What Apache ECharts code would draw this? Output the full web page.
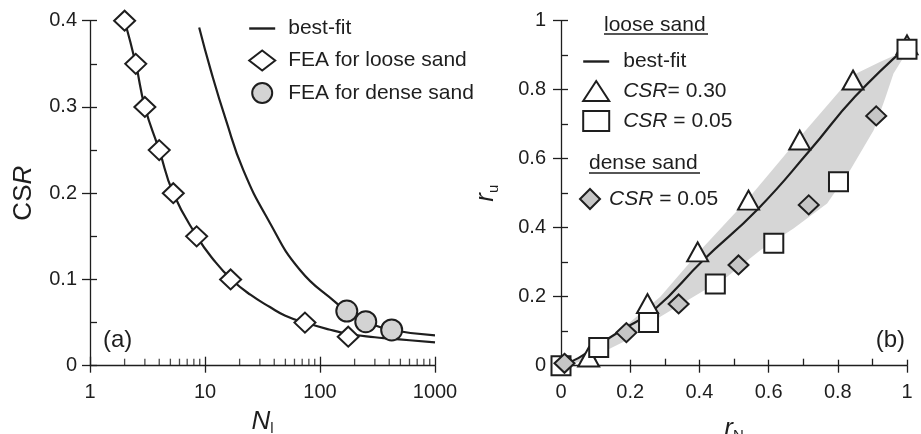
<!DOCTYPE html>
<html><head><meta charset="utf-8">
<script src="https://cdn.jsdelivr.net/npm/echarts@6/dist/echarts.min.js"></script>
<style>html,body{margin:0;padding:0;background:#fff}#c{width:921px;height:434px}</style>
</head><body><div id="c"></div>
<script>
// ---------- Panel (a) data ----------
const looseFEA_N   = [2, 2.5, 3, 4, 5.3, 8.46, 16.7, 74, 176];
const looseFEA_CSR = [0.4, 0.35, 0.3, 0.25, 0.2, 0.15, 0.1, 0.05, 0.0336];
const denseFEA_N   = [171, 250, 420];
const denseFEA_CSR = [0.0634, 0.051, 0.0414];
const looseFit_N   = [2, 2.5, 3, 4, 5.3, 8.5, 12, 17, 25, 36.7, 50, 74, 120, 176, 300, 405, 600, 1000];
const looseFit_CSR = [0.4, 0.35, 0.3, 0.25, 0.2, 0.15, 0.122, 0.1, 0.082, 0.068, 0.058, 0.05, 0.042, 0.037, 0.033, 0.0315, 0.0295, 0.027];
const denseFit_N   = [8.9, 11.2, 15.2, 21.5, 35.5, 67, 140, 171, 250, 420, 1000];
const denseFit_CSR = [0.392, 0.343, 0.285, 0.227, 0.169, 0.111, 0.0723, 0.063, 0.051, 0.0414, 0.0352];
const minorTicksN  = [2,3,4,5,6,7,8,9,20,30,40,50,60,70,80,90,200,300,400,500,600,700,800,900];

// ---------- Panel (b) data ----------
const tri_rN = [0.08, 0.25, 0.395, 0.542, 0.69, 0.844, 1.0];
const tri_ru = [0.025, 0.18, 0.33, 0.48, 0.654, 0.828, 0.93];
const sq_rN  = [0, 0.109, 0.253, 0.446, 0.615, 0.802, 1.0];
const sq_ru  = [0, 0.053, 0.125, 0.237, 0.355, 0.533, 0.917];
const dd_rN  = [0.01, 0.189, 0.34, 0.513, 0.716, 0.911];
const dd_ru  = [0.007, 0.096, 0.179, 0.292, 0.466, 0.724];
const fit_rN = [0, 0.05, 0.1, 0.17, 0.27, 0.41, 0.57, 0.72, 0.85, 1.0];
const fit_ru = [0, 0.022, 0.055, 0.1, 0.163, 0.305, 0.455, 0.625, 0.78, 0.925];
const bandUp_rN = [0.02, 0.094, 0.19, 0.287, 0.403, 0.538, 0.692, 0.846, 0.923, 1.0];
const bandUp_ru = [0.0, 0.05, 0.118, 0.2, 0.335, 0.48, 0.664, 0.843, 0.881, 0.915];
const bandLo_rN = [1.0, 0.961, 0.937, 0.904, 0.836, 0.769, 0.672, 0.576, 0.48, 0.383, 0.287, 0.19, 0.094, 0.02];
const bandLo_ru = [0.91, 0.847, 0.775, 0.683, 0.567, 0.47, 0.398, 0.335, 0.258, 0.2, 0.142, 0.074, 0.026, 0.0];

const legendText = {
  'best-fit': 'best-fit',
  'FEA for loose sand': 'FEA for loose sand',
  'FEA for dense sand': 'FEA for dense sand',
  'CSR= 0.30': '{i|CSR}= 0.30',
  'CSR = 0.05': '{i|CSR} = 0.05',
  'dense: CSR = 0.05': '{i|CSR} = 0.05'
};

const zip = (a, b) => a.map((v, i) => [v, b[i]]);
const FONT = 'Liberation Sans, Arial, Helvetica, sans-serif';
const INK = '#1e1e1e';

const chart = echarts.init(document.getElementById('c'), null, {renderer: 'canvas'});

const axisLine = {show: true, lineStyle: {color: INK, width: 1.3}};
const lbl = (m) => ({fontSize: 20, color: INK, fontFamily: FONT, margin: m, formatter: v => String(v)});
const nameRich = {
  n: {fontSize: 26, fontFamily: FONT, color: INK, lineHeight: 30},
  i: {fontSize: 26, fontStyle: 'italic', fontFamily: FONT, color: INK, lineHeight: 30},
  s: {fontSize: 15, fontFamily: FONT, color: INK, lineHeight: 16, verticalAlign: 'bottom'}
};
const legendRich = {
  g: {width: 8},
  g2: {width: 9},
  g3: {width: 4},
  i: {fontStyle: 'italic', fontSize: 21, fontFamily: FONT, color: INK}
};
const lineOnlyItem = {name: 'best-fit', itemStyle: {opacity: 0}};
const legendLine = {color: INK, width: 2.4};

const option = {
  animation: false,
  backgroundColor: '#fff',
  grid: [
    {left: 90, right: 486, top: 20.7, bottom: 68.3, outerBoundsMode: 'none', containLabel: false},
    {left: 561, right: 14, top: 20.7, bottom: 68.3, outerBoundsMode: 'none', containLabel: false}
  ],
  xAxis: [
    {gridIndex: 0, type: 'log', logBase: 10, min: 1, max: 1000, position: 'bottom',
     axisLine, axisTick: {show: true, inside: true, length: 9, lineStyle: {color: INK, width: 1.3}},
     axisLabel: lbl(17), splitLine: {show: false},
     name: '{i|N}{s|l}', nameLocation: 'middle', nameGap: 41, nameTextStyle: {rich: nameRich}},
    {gridIndex: 0, type: 'log', logBase: 10, min: 1, max: 1000, position: 'bottom',
     axisLine: {show: false}, axisTick: {show: true, inside: false, length: 7, lineStyle: {color: INK, width: 1.3}},
     axisLabel: {show: false}, splitLine: {show: false}},
    {gridIndex: 1, type: 'value', min: 0, max: 1, interval: 0.2, position: 'bottom',
     axisLine, axisTick: {show: true, inside: true, length: 6, lineStyle: {color: INK, width: 1.3}},
     minorTick: {show: true, splitNumber: 2, length: 7, lineStyle: {color: INK, width: 1.3}},
     axisLabel: lbl(17), splitLine: {show: false},
     name: '{i|r}{s|N}', nameLocation: 'middle', nameGap: 48, nameTextStyle: {rich: nameRich}},
    {gridIndex: 1, type: 'value', min: 0, max: 1, interval: 0.2, position: 'bottom',
     axisLine: {show: false}, axisTick: {show: true, inside: false, length: 7, lineStyle: {color: INK, width: 1.3}},
     axisLabel: {show: false}, splitLine: {show: false}}
  ],
  yAxis: [
    {gridIndex: 0, type: 'value', min: 0, max: 0.4, interval: 0.1, position: 'left',
     axisLine, axisTick: {show: true, inside: true, length: 7, lineStyle: {color: INK, width: 1.3}},
     minorTick: {show: true, splitNumber: 2, length: 7, lineStyle: {color: INK, width: 1.3}},
     axisLabel: lbl(13), splitLine: {show: false},
     name: '{n|CS}{i|R}', nameLocation: 'middle', nameGap: 51, nameRotate: 90, nameTextStyle: {rich: nameRich}},
    {gridIndex: 0, type: 'value', min: 0, max: 0.4, interval: 0.1, position: 'left',
     axisLine: {show: false}, axisTick: {show: true, inside: false, length: 8, lineStyle: {color: INK, width: 1.3}},
     axisLabel: {show: false}, splitLine: {show: false}},
    {gridIndex: 1, type: 'value', min: 0, max: 1, interval: 0.2, position: 'left',
     axisLine, axisTick: {show: true, inside: true, length: 7, lineStyle: {color: INK, width: 1.3}},
     minorTick: {show: true, splitNumber: 2, length: 7, lineStyle: {color: INK, width: 1.3}},
     axisLabel: lbl(15), splitLine: {show: false},
     name: '{i|r}{s|u}', nameLocation: 'middle', nameGap: 60, nameRotate: 90, nameTextStyle: {rich: nameRich}},
    {gridIndex: 1, type: 'value', min: 0, max: 1, interval: 0.2, position: 'left',
     axisLine: {show: false}, axisTick: {show: true, inside: false, length: 8, lineStyle: {color: INK, width: 1.3}},
     axisLabel: {show: false}, splitLine: {show: false}}
  ],
  legend: [
    {data: [lineOnlyItem, 'FEA for loose sand', 'FEA for dense sand'], orient: 'vertical',
     left: 243, top: 13, itemWidth: 26, itemHeight: 20, itemGap: 10.5, selectedMode: false,
     lineStyle: legendLine,
     formatter: n => '{g|}' + legendText[n],
     textStyle: {fontSize: 21, color: INK, fontFamily: FONT, rich: legendRich}},
    {data: [lineOnlyItem, 'CSR= 0.30', 'CSR = 0.05'], orient: 'vertical',
     left: 577, top: 46, itemWidth: 26, itemHeight: 20, itemGap: 8, selectedMode: false,
     lineStyle: legendLine,
     formatter: n => '{g2|}' + legendText[n],
     textStyle: {fontSize: 21, color: INK, fontFamily: FONT, rich: legendRich}},
    {data: ['dense: CSR = 0.05'], orient: 'vertical',
     left: 574, top: 183, itemWidth: 20, itemHeight: 20, selectedMode: false,
     formatter: n => '{g3|}' + legendText[n],
     textStyle: {fontSize: 21, color: INK, fontFamily: FONT, rich: legendRich}}
  ],
  graphic: [
    {type: 'text', left: 103, top: 328, style: {text: '(a)', fontSize: 24, fontFamily: FONT, fill: INK}},
    {type: 'text', right: 16, top: 328, style: {text: '(b)', fontSize: 24, fontFamily: FONT, fill: INK}},
    {type: 'text', left: 604, top: 15, style: {text: 'loose sand', fontSize: 21, fontFamily: FONT, fill: INK}},
    {type: 'line', shape: {x1: 604, y1: 34, x2: 708, y2: 34}, style: {stroke: INK, lineWidth: 1.3}},
    {type: 'text', left: 589, top: 153, style: {text: 'dense sand', fontSize: 21, fontFamily: FONT, fill: INK}},
    {type: 'line', shape: {x1: 589, y1: 173, x2: 700, y2: 173}, style: {stroke: INK, lineWidth: 1.3}}
  ],
  series: [
    // panel (a)
    {name: 'minor ticks', type: 'scatter', xAxisIndex: 0, yAxisIndex: 0, silent: true, z: 10,
     data: minorTicksN.map(n => [n, 0]), symbol: 'rect', symbolSize: [1.3, 7], symbolOffset: [0, -3.5],
     itemStyle: {color: INK}},
    {name: 'best-fit', type: 'line', xAxisIndex: 0, yAxisIndex: 0, data: zip(looseFit_N, looseFit_CSR),
     symbol: 'none', smooth: 0.5, lineStyle: {color: INK, width: 2.2}, itemStyle: {color: INK}, z: 2},
    {name: 'best-fit', type: 'line', xAxisIndex: 0, yAxisIndex: 0, data: zip(denseFit_N, denseFit_CSR),
     symbol: 'none', smooth: 0.5, lineStyle: {color: INK, width: 2.2}, itemStyle: {color: INK}, z: 2},
    {name: 'FEA for dense sand', type: 'scatter', xAxisIndex: 0, yAxisIndex: 0, data: zip(denseFEA_N, denseFEA_CSR),
     symbol: 'circle', symbolSize: 21, itemStyle: {color: '#d3d3d3', borderColor: INK, borderWidth: 2, opacity: 1}, z: 3},
    {name: 'FEA for loose sand', type: 'scatter', xAxisIndex: 0, yAxisIndex: 0, data: zip(looseFEA_N, looseFEA_CSR),
     symbol: 'diamond', symbolSize: [21, 20], itemStyle: {color: '#fff', borderColor: INK, borderWidth: 2, opacity: 1}, z: 4},
    // panel (b)
    {name: 'band', type: 'custom', xAxisIndex: 2, yAxisIndex: 2, silent: true, z: 1, data: [[0, 0]],
     renderItem: (params, api) => {
       const pts = [];
       bandUp_rN.forEach((x, i) => pts.push(api.coord([x, bandUp_ru[i]])));
       bandLo_rN.forEach((x, i) => pts.push(api.coord([x, bandLo_ru[i]])));
       return {type: 'polygon', shape: {points: pts}, style: {fill: '#d6d6d6'}};
     }},
    {name: 'best-fit', type: 'line', xAxisIndex: 2, yAxisIndex: 2, data: zip(fit_rN, fit_ru),
     symbol: 'none', smooth: 0.5, lineStyle: {color: INK, width: 2.2}, itemStyle: {color: INK}, z: 2},
    {name: 'CSR= 0.30', type: 'scatter', xAxisIndex: 2, yAxisIndex: 2, data: zip(tri_rN, tri_ru),
     symbol: 'triangle', symbolSize: [21, 19], itemStyle: {color: '#fff', borderColor: INK, borderWidth: 2, opacity: 1}, z: 3},
    {name: 'CSR = 0.05', type: 'scatter', xAxisIndex: 2, yAxisIndex: 2, data: zip(sq_rN, sq_ru),
     symbol: 'rect', symbolSize: 19, itemStyle: {color: '#fff', borderColor: INK, borderWidth: 2, opacity: 1}, z: 4},
    {name: 'dense: CSR = 0.05', type: 'scatter', xAxisIndex: 2, yAxisIndex: 2, data: zip(dd_rN, dd_ru),
     symbol: 'diamond', symbolSize: [20, 19], itemStyle: {color: '#c6c6c6', borderColor: INK, borderWidth: 2, opacity: 1}, z: 5}
  ]
};
chart.setOption(option);
</script></body></html>
